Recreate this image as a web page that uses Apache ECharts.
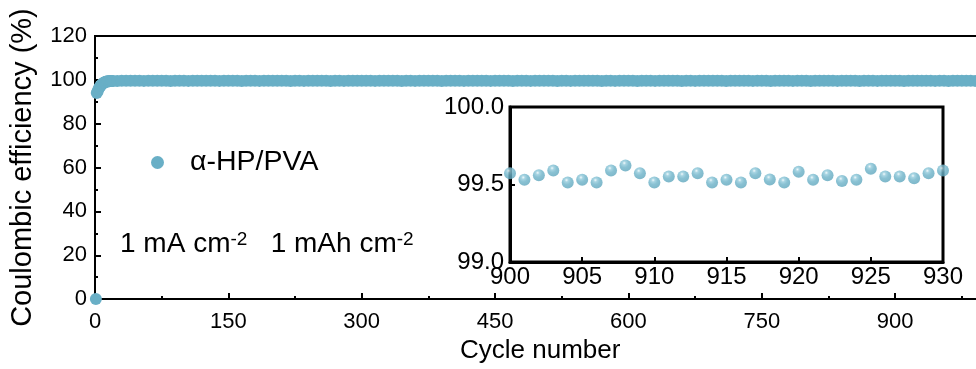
<!DOCTYPE html>
<html>
<head>
<meta charset="utf-8">
<script src="https://cdn.jsdelivr.net/npm/echarts@6/dist/echarts.min.js"></script>
<style>
html, body { margin: 0; padding: 0; overflow: hidden; background: #fff; width: 976px; height: 369px; }
#chart { width: 1040px; height: 369px; }
</style>
</head>
<body>
<div id="chart"></div>
<script>
// ---- data ----
const seriesName = 'α-HP/PVA';
const xTitle = 'Cycle number';
const yTitle = 'Coulombic efficiency (%)';
// early cycles [cycle, CE]
const earlyCycles = [1, 2, 3, 4, 5, 6, 7, 8, 9, 10, 11, 12, 13, 14, 15, 16, 17, 18, 19, 20];
const earlyCE = [0, 94.0, 94.8, 95.8, 96.6, 97.2, 97.7, 98.1, 98.4, 98.7, 98.9, 99.1, 99.2, 99.3, 99.35, 99.4, 99.45, 99.5, 99.5, 99.52];
// stable cycles, sampled every 5 cycles from cycle 25 to 1000
const bandStartCycle = 25;
const bandStepCycle = 5;
const bandCE = [
  99.52, 99.55, 99.58, 99.54, 99.56, 99.60, 99.53, 99.57, 99.55, 99.59, 99.54, 99.56, 99.52, 99.58, 99.55, 99.57, 99.53, 99.60, 99.56, 99.54,
  99.57, 99.55, 99.59, 99.53, 99.56, 99.58, 99.54, 99.57, 99.52, 99.55, 99.60, 99.56, 99.53, 99.58, 99.55, 99.57, 99.54, 99.59, 99.56, 99.52,
  99.55, 99.58, 99.53, 99.56, 99.60, 99.54, 99.57, 99.55, 99.52, 99.59, 99.56, 99.53, 99.58, 99.55, 99.57, 99.54, 99.60, 99.56, 99.53, 99.58,
  99.56, 99.54, 99.59, 99.55, 99.52, 99.57, 99.58, 99.53, 99.56, 99.60, 99.55, 99.54, 99.57, 99.52, 99.59, 99.56, 99.55, 99.58, 99.53, 99.57,
  99.54, 99.58, 99.55, 99.57, 99.53, 99.60, 99.56, 99.54, 99.59, 99.52, 99.55, 99.57, 99.58, 99.53, 99.56, 99.60, 99.54, 99.55, 99.57, 99.52,
  99.59, 99.56, 99.53, 99.58, 99.55, 99.57, 99.54, 99.60, 99.56, 99.52, 99.58, 99.55, 99.53, 99.57, 99.59, 99.54, 99.56, 99.52, 99.58, 99.55,
  99.57, 99.53, 99.60, 99.56, 99.54, 99.58, 99.55, 99.52, 99.57, 99.59, 99.53, 99.56, 99.55, 99.58, 99.54, 99.60, 99.57, 99.52, 99.56, 99.55,
  99.58, 99.54, 99.57, 99.53, 99.59, 99.56, 99.55, 99.52, 99.60, 99.57, 99.54, 99.58, 99.53, 99.56, 99.55, 99.59, 99.52, 99.57, 99.54, 99.56,
  99.55, 99.60, 99.53, 99.58, 99.56, 99.54, 99.57, 99.52, 99.59, 99.55, 99.56, 99.53, 99.58, 99.57, 99.54, 99.60, 99.55, 99.52, 99.56, 99.58,
  99.54, 99.57, 99.55, 99.59, 99.53, 99.56, 99.58, 99.52, 99.57, 99.55, 99.60, 99.54, 99.56, 99.53, 99.58, 99.55
];
// inset: cycles 900-930
const insetCycles = [900, 901, 902, 903, 904, 905, 906, 907, 908, 909, 910, 911, 912, 913, 914, 915, 916, 917, 918, 919, 920, 921, 922, 923, 924, 925, 926, 927, 928, 929, 930];
const insetCE = [99.573, 99.530, 99.560, 99.590, 99.513, 99.530, 99.513, 99.590, 99.623, 99.573, 99.513, 99.552, 99.552, 99.573, 99.513, 99.530, 99.513, 99.573, 99.532, 99.513, 99.582, 99.530, 99.560, 99.522, 99.530, 99.601, 99.552, 99.552, 99.541, 99.573, 99.590];

// ---- build ----
const mainData = earlyCycles.map((c, i) => [c, earlyCE[i]]);
bandCE.forEach((v, i) => mainData.push([bandStartCycle + i * bandStepCycle, v]));
const insetData = insetCycles.map((c, i) => [c, insetCE[i]]);

const FONT = 'Liberation Sans, Arial, sans-serif';
const COLOR = '#69AFC6';

const chart = echarts.init(document.getElementById('chart'), null, { renderer: 'canvas' });
chart.setOption({
  animation: false,
  backgroundColor: '#fff',
  textStyle: { fontFamily: FONT, color: '#000' },
  legend: {
    show: true,
    left: 151, top: 148, padding: 0,
    itemWidth: 13, itemHeight: 13, itemGap: 5,
    icon: 'circle',
    textStyle: { fontSize: 28.5, fontFamily: FONT, color: '#000', padding: [0, 0, 0, 21] },
    data: [seriesName]
  },
  graphic: [{
    type: 'text', x: 120, y: 244, z: 10,
    style: {
      text: '{a|1 mA cm}{s|-2}{a|   1 mAh cm}{s|-2}',
      verticalAlign: 'middle',
      rich: {
        a: { fontSize: 28, fontFamily: FONT, fill: '#000', verticalAlign: 'bottom' },
        s: { fontSize: 19, fontFamily: FONT, fill: '#000', verticalAlign: 'top' }
      }
    }
  }],
  grid: [
    { left: 94, top: 36, width: 934.5, height: 269, show: true, borderColor: '#000', borderWidth: 2, containLabel: false },
    { left: 510, top: 107, width: 433, height: 155, show: true, borderColor: '#000', borderWidth: 3, backgroundColor: '#fff', containLabel: false, z: 3 }
  ],
  xAxis: [
    {
      gridIndex: 0, type: 'value', min: 0, max: 1050, interval: 150,
      name: xTitle, nameLocation: 'middle', nameGap: 37,
      nameTextStyle: { fontSize: 26, fontFamily: FONT, color: '#000', padding: [0, 43, 0, 0] },
      axisLine: { show: true, lineStyle: { color: '#000', width: 2 } },
      axisTick: { show: true, inside: true, length: 6, lineStyle: { color: '#000', width: 2 } },
      minorTick: { show: true, splitNumber: 2, length: 3, lineStyle: { color: '#000', width: 2 } },
      axisLabel: { fontSize: 22, color: '#000', fontFamily: FONT, margin: 12, showMaxLabel: false },
      splitLine: { show: false }
    },
    {
      gridIndex: 1, type: 'value', min: 900, max: 930, interval: 5,
      axisLine: { show: true, lineStyle: { color: '#000', width: 3 } },
      axisTick: { show: true, inside: true, length: 5, lineStyle: { color: '#000', width: 2 } },
      axisLabel: { fontSize: 24, color: '#000', fontFamily: FONT, margin: 3 },
      splitLine: { show: false }, z: 4
    }
  ],
  yAxis: [
    {
      gridIndex: 0, type: 'value', min: 0, max: 120, interval: 20,
      name: yTitle, nameLocation: 'middle', nameGap: 58,
      nameTextStyle: { fontSize: 29, fontFamily: FONT, color: '#000' },
      axisLine: { show: true, lineStyle: { color: '#000', width: 2 } },
      axisTick: { show: true, inside: true, length: 6, lineStyle: { color: '#000', width: 2 } },
      minorTick: { show: true, splitNumber: 2, length: 3, lineStyle: { color: '#000', width: 2 } },
      axisLabel: { fontSize: 22, color: '#000', fontFamily: FONT, margin: 8 },
      splitLine: { show: false }
    },
    {
      gridIndex: 1, type: 'value', min: 99.0, max: 100.0, interval: 0.5,
      axisLine: { show: true, lineStyle: { color: '#000', width: 3 } },
      axisTick: { show: true, inside: true, length: 5, lineStyle: { color: '#000', width: 2 } },
      axisLabel: { fontSize: 24, color: '#000', fontFamily: FONT, margin: 6, formatter: v => v.toFixed(1) },
      splitLine: { show: false }, z: 4
    }
  ],
  series: [
    {
      name: seriesName, type: 'scatter', xAxisIndex: 0, yAxisIndex: 0,
      data: mainData, symbol: 'circle', symbolSize: 12, clip: false,
      itemStyle: { color: COLOR, opacity: 1 }
    },
    {
      name: 'inset', type: 'scatter', xAxisIndex: 1, yAxisIndex: 1,
      data: insetData, symbol: 'circle', symbolSize: 12, clip: false, z: 5,
      itemStyle: {
        color: {
          type: 'radial', x: 0.4, y: 0.3, r: 0.75,
          colorStops: [
            { offset: 0, color: '#eef8fb' },
            { offset: 0.2, color: '#92cadb' },
            { offset: 0.5, color: '#6cb2c8' },
            { offset: 1, color: '#5ca4bb' }
          ]
        }
      }
    }
  ]
});
</script>
</body>
</html>
